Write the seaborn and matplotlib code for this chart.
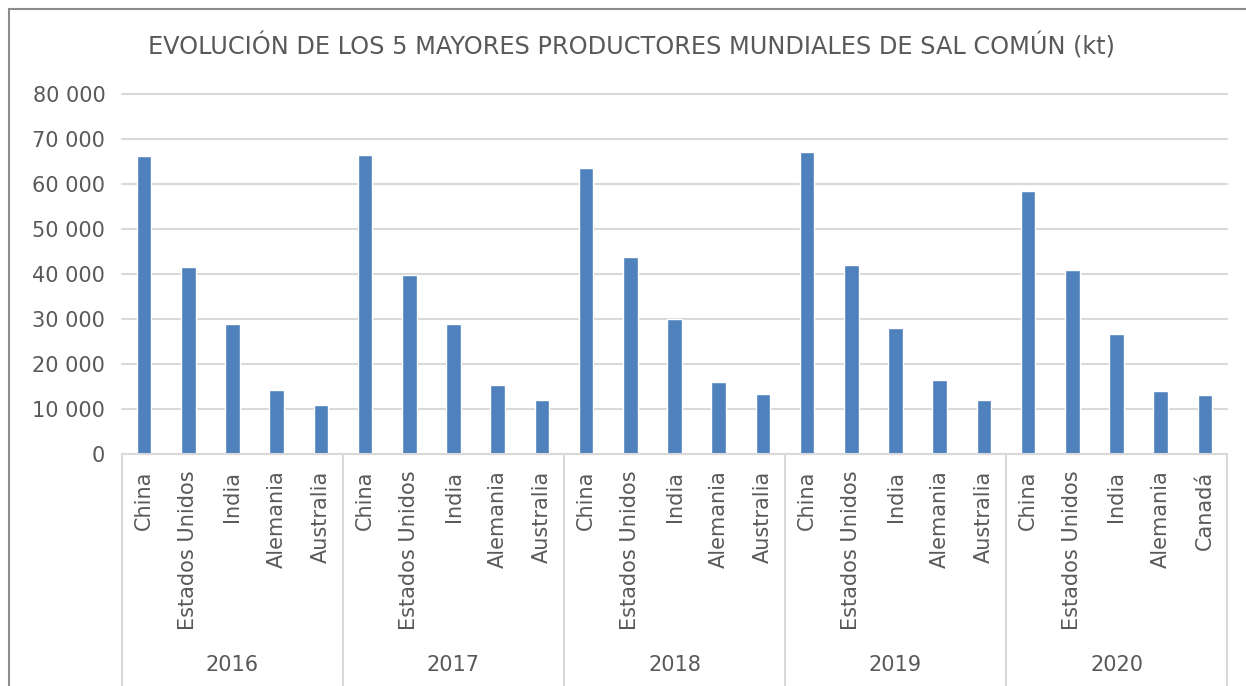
import numpy as np
import pandas as pd
import matplotlib
matplotlib.use('Agg')
import matplotlib.pyplot as plt
import matplotlib.transforms as mtransforms
from matplotlib.patches import Rectangle
import seaborn as sns

# Data (kt)
years = ['2016', '2017', '2018', '2019', '2020']
countries_2016 = ['China', 'Estados Unidos', 'India', 'Alemania', 'Australia']
countries_2017 = ['China', 'Estados Unidos', 'India', 'Alemania', 'Australia']
countries_2018 = ['China', 'Estados Unidos', 'India', 'Alemania', 'Australia']
countries_2019 = ['China', 'Estados Unidos', 'India', 'Alemania', 'Australia']
countries_2020 = ['China', 'Estados Unidos', 'India', 'Alemania', 'Canadá']
values_2016 = [66200, 41500, 29000, 14300, 10800]
values_2017 = [66500, 39800, 28900, 15400, 12100]
values_2018 = [63600, 43700, 29900, 16100, 13300]
values_2019 = [67000, 41900, 28000, 16400, 12000]
values_2020 = [58500, 40900, 26600, 14100, 13200]

countries = [countries_2016, countries_2017, countries_2018, countries_2019, countries_2020]
values = [values_2016, values_2017, values_2018, values_2019, values_2020]

rows = []
for yr, cs, vs in zip(years, countries, values):
    for c, v in zip(cs, vs):
        rows.append({'year': yr, 'country': c, 'key': yr + ' ' + c, 'kt': v})
df = pd.DataFrame(rows)

sns.set_style('white')
plt.rcParams['font.family'] = ['DejaVu Sans']
text_col = '#595959'
grid_col = '#D9D9D9'

fig = plt.figure(figsize=(12.46, 6.86), dpi=100)
ax = fig.add_axes([122 / 1246, 1 - 454 / 686, (1227 - 122) / 1246, (454 - 94) / 686])

sns.barplot(x='key', y='kt', data=df, color='#4F81BD', width=0.33,
            saturation=1, ax=ax)

ax.set_ylim(0, 80000)
ax.set_xlim(-0.5, len(df) - 0.5)
ax.set_yticks(np.arange(0, 80001, 10000))
ax.set_yticklabels([f'{v:,}'.replace(',', ' ') for v in range(0, 80001, 10000)],
                   color=text_col, fontsize=15)
ax.set_xticks(range(len(df)))
ax.set_xticklabels(df['country'], rotation=90, color=text_col, fontsize=15,
                   va='top', ha='center')
ax.tick_params(axis='x', length=0, pad=12)
ax.tick_params(axis='y', length=0, pad=12)
ax.set_xlabel('')
ax.set_ylabel('')
ax.yaxis.grid(True, color=grid_col, linewidth=1.5)
for gl in ax.get_ygridlines():
    gl.set_clip_on(False)
ax.set_axisbelow(True)
for s in ['left', 'right', 'top']:
    ax.spines[s].set_visible(False)
ax.spines['bottom'].set_color(grid_col)
ax.spines['bottom'].set_linewidth(1.5)

# Multi-level category axis: group separators and year labels
trans = mtransforms.blended_transform_factory(ax.transData, ax.transAxes)
bounds = np.arange(-0.5, len(df), 5)
ax.vlines(bounds, 0, -0.75, transform=trans, color=grid_col, linewidth=1.5, clip_on=False)
for i, yr in enumerate(years):
    ax.text(i * 5 + 2, -0.586, yr, transform=trans, ha='center', va='center',
            color=text_col, fontsize=15)

fig.text(0.507, 0.933, 'EVOLUCIÓN DE LOS 5 MAYORES PRODUCTORES MUNDIALES DE SAL COMÚN (kt)',
         ha='center', va='center', color=text_col, fontsize=17.3)

# Chart area border
fig.patches.append(Rectangle((9 / 1246, -0.1), 1.2, 1.1 - 9 / 686, transform=fig.transFigure,
                             fill=False, edgecolor='#8C8C8C', linewidth=1.5, clip_on=False))

fig.savefig('out.png', dpi=100)
